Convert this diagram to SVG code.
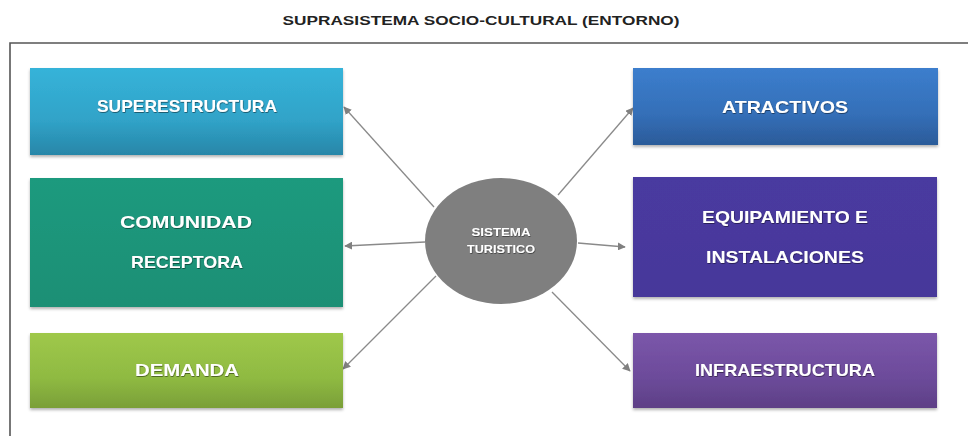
<svg xmlns="http://www.w3.org/2000/svg" width="968" height="436" viewBox="0 0 968 436">
<defs>
<style>
.t{font-family:"Liberation Sans",Arial,sans-serif;font-weight:bold;fill:#fff;text-anchor:middle;filter:url(#ts)}
.title{font-family:"Liberation Sans",Arial,sans-serif;font-weight:bold;fill:#222;text-anchor:middle;font-size:13px}
.box{filter:url(#sh)}
.con{stroke:#8a8a8a;stroke-width:1.3;fill:none;marker-end:url(#ah)}
</style>
<filter id="sh" x="-5%" y="-10%" width="110%" height="125%"><feDropShadow dx="0" dy="2" stdDeviation="1.5" flood-color="#000" flood-opacity="0.3"/></filter>
<filter id="ts" x="-10%" y="-30%" width="120%" height="160%"><feDropShadow dx="0.5" dy="0.8" stdDeviation="0.6" flood-color="#000" flood-opacity="0.55"/></filter>
<marker id="ah" viewBox="0 0 10 10" refX="9" refY="5" markerWidth="8" markerHeight="8" markerUnits="userSpaceOnUse" orient="auto"><path d="M0,0 L10,5 L0,10 z" fill="#808080"/></marker>
<linearGradient id="g1" x1="0" y1="0" x2="0" y2="1"><stop offset="0" stop-color="#36b3d9"/><stop offset="0.6" stop-color="#30a3c8"/><stop offset="1" stop-color="#2886a8"/></linearGradient>
<linearGradient id="g2" x1="0" y1="0" x2="0" y2="1"><stop offset="0" stop-color="#1f9a7e"/><stop offset="1" stop-color="#1d8f75"/></linearGradient>
<linearGradient id="g3" x1="0" y1="0" x2="0" y2="1"><stop offset="0" stop-color="#9fc84a"/><stop offset="0.6" stop-color="#8fba42"/><stop offset="1" stop-color="#7a9f38"/></linearGradient>
<linearGradient id="g4" x1="0" y1="0" x2="0" y2="1"><stop offset="0" stop-color="#3c7ecd"/><stop offset="0.6" stop-color="#346fb8"/><stop offset="1" stop-color="#2b5b99"/></linearGradient>
<linearGradient id="g5" x1="0" y1="0" x2="0" y2="1"><stop offset="0" stop-color="#4a3aa0"/><stop offset="1" stop-color="#46389a"/></linearGradient>
<linearGradient id="g6" x1="0" y1="0" x2="0" y2="1"><stop offset="0" stop-color="#7b56aa"/><stop offset="0.6" stop-color="#6c4b9a"/><stop offset="1" stop-color="#5d3f86"/></linearGradient>
</defs>
<rect width="968" height="436" fill="#fff"/>
<text class="title" x="481" y="25" textLength="397" lengthAdjust="spacingAndGlyphs">SUPRASISTEMA SOCIO-CULTURAL (ENTORNO)</text>
<path d="M10,436 L10,43 L968,43" stroke="#555" stroke-width="1.6" fill="none"/>
<g id="connectors">
<line class="con" x1="434" y1="207" x2="344" y2="107"/>
<line class="con" x1="425" y1="242" x2="345" y2="246"/>
<line class="con" x1="436" y1="276" x2="343" y2="369"/>
<line class="con" x1="558" y1="195" x2="633" y2="108"/>
<line class="con" x1="578" y1="243" x2="625" y2="247"/>
<line class="con" x1="552" y1="292" x2="630" y2="371"/>
</g>
<g id="superestructura"><rect class="box" x="30" y="68" width="313" height="87" fill="url(#g1)"/><text class="t" x="187" y="112" font-size="17" textLength="180" lengthAdjust="spacingAndGlyphs">SUPERESTRUCTURA</text></g>
<g id="comunidad"><rect class="box" x="30" y="178" width="313" height="129" fill="url(#g2)"/><text class="t" x="186" y="228" font-size="17" textLength="132" lengthAdjust="spacingAndGlyphs">COMUNIDAD</text><text class="t" x="187" y="268" font-size="17" textLength="112" lengthAdjust="spacingAndGlyphs">RECEPTORA</text></g>
<g id="demanda"><rect class="box" x="30" y="333" width="313" height="75" fill="url(#g3)"/><text class="t" x="187" y="376" font-size="17" textLength="104" lengthAdjust="spacingAndGlyphs">DEMANDA</text></g>
<g id="atractivos"><rect class="box" x="633" y="68" width="305" height="77" fill="url(#g4)"/><text class="t" x="785" y="113" font-size="17" textLength="126" lengthAdjust="spacingAndGlyphs">ATRACTIVOS</text></g>
<g id="equipamiento"><rect class="box" x="633" y="177" width="304" height="120" fill="url(#g5)"/><text class="t" x="785" y="223" font-size="17" textLength="166" lengthAdjust="spacingAndGlyphs">EQUIPAMIENTO E</text><text class="t" x="785" y="263" font-size="17" textLength="158" lengthAdjust="spacingAndGlyphs">INSTALACIONES</text></g>
<g id="infraestructura"><rect class="box" x="633" y="333" width="304" height="75" fill="url(#g6)"/><text class="t" x="785" y="376" font-size="17" textLength="180" lengthAdjust="spacingAndGlyphs">INFRAESTRUCTURA</text></g>
<g id="sistema"><ellipse cx="501" cy="241" rx="76" ry="63" fill="#7f7f7f"/><text class="t" x="501" y="236" font-size="11" textLength="59" lengthAdjust="spacingAndGlyphs">SISTEMA</text><text class="t" x="501" y="253" font-size="11" textLength="68" lengthAdjust="spacingAndGlyphs">TURISTICO</text></g>
</svg>
